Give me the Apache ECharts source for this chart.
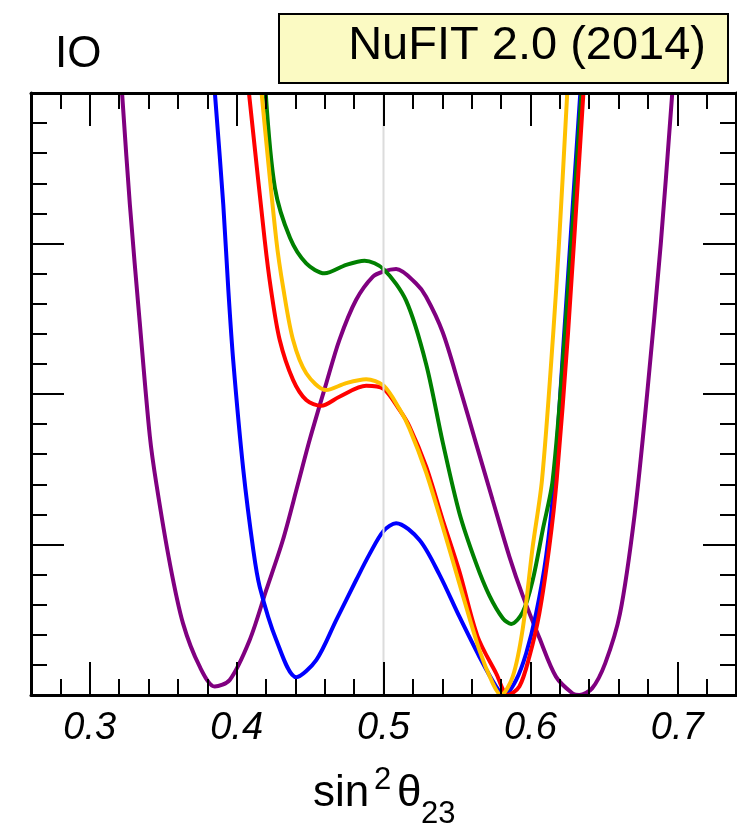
<!DOCTYPE html>
<html>
<head>
<meta charset="utf-8">
<script src="https://cdn.jsdelivr.net/npm/echarts@6/dist/echarts.min.js"></script>
<style>
  html, body { margin: 0; padding: 0; background: #fff; }
  #chart { width: 737px; height: 827px; }
</style>
</head>
<body>
<div id="chart"></div>
<script>
// Delta chi^2 profiles versus sin^2(theta23), inverted ordering
const purpleCurve = [
  [0.322, 20], [0.3273, 16.3], [0.334, 12.4], [0.3409, 8.6], [0.3454, 7.0], [0.3545, 4.38],
  [0.3635, 2.38], [0.3749, 0.94], [0.3851, 0.28], [0.3953, 0.5], [0.4089, 1.83], [0.4202, 3.49],
  [0.4315, 5.15], [0.4417, 7.0], [0.4497, 8.47], [0.461, 10.35], [0.47, 11.8], [0.4814, 13.13],
  [0.4928, 13.9], [0.5, 14.07], [0.5086, 14.15], [0.5222, 13.67], [0.529, 13.23], [0.5403, 12.05],
  [0.5517, 10.25], [0.563, 8.36], [0.5743, 6.48], [0.5857, 4.6], [0.5948, 3.3], [0.6061, 1.9],
  [0.6174, 0.61], [0.6288, 0.05], [0.6333, 0], [0.642, 0.22], [0.651, 1.06], [0.661, 2.7],
  [0.671, 6.0], [0.6795, 10], [0.6888, 15], [0.6966, 20]
];
const blueCurve = [
  [0.3852, 20], [0.3909, 16.3], [0.3943, 13.5], [0.3977, 11.1], [0.4045, 7.5], [0.4114, 4.8],
  [0.4157, 3.6], [0.427, 1.83], [0.4406, 0.59], [0.4542, 1.16], [0.4678, 2.49], [0.4814, 3.82],
  [0.4905, 4.68], [0.5, 5.45], [0.5086, 5.71], [0.5245, 5.15], [0.5381, 4.0], [0.5517, 2.6],
  [0.5653, 1.27], [0.5767, 0.28], [0.5823, 0], [0.5903, 0.5], [0.5971, 1.38], [0.6039, 2.71],
  [0.6107, 4.6], [0.6163, 7.14], [0.623, 12], [0.634, 20]
];
const greenCurve = [
  [0.4198, 20], [0.4261, 16.84], [0.4364, 15.18], [0.4474, 14.34], [0.4599, 14.01], [0.4746, 14.29],
  [0.4871, 14.43], [0.5, 14.15], [0.5154, 13.1], [0.529, 11.0], [0.5403, 8.4], [0.5517, 6.04],
  [0.563, 4.38], [0.5721, 3.3], [0.5812, 2.55], [0.5869, 2.36], [0.5948, 2.75], [0.6016, 3.82],
  [0.6084, 5.48], [0.6152, 7.14], [0.6235, 12], [0.6348, 20]
];
const redCurve = [
  [0.4084, 20], [0.4191, 15.12], [0.4233, 13.5], [0.4293, 11.8], [0.4384, 10.47], [0.4474, 9.8],
  [0.4576, 9.61], [0.47, 9.91], [0.4882, 10.27], [0.5, 10.17], [0.5109, 9.47], [0.5177, 8.92],
  [0.529, 7.59], [0.5403, 5.82], [0.5517, 4.1], [0.564, 1.95], [0.5767, 0.72], [0.5846, 0],
  [0.5925, 0.28], [0.5993, 1.27], [0.6061, 2.71], [0.6129, 4.93], [0.6179, 7.14], [0.6256, 12],
  [0.6361, 20]
];
const orangeCurve = [
  [0.417, 20], [0.427, 15.12], [0.4318, 13.5], [0.4384, 11.8], [0.4474, 10.69], [0.461, 10.13],
  [0.4746, 10.36], [0.4882, 10.49], [0.5, 10.28], [0.5109, 9.5], [0.5177, 8.85], [0.529, 7.4],
  [0.5403, 5.6], [0.5517, 3.7], [0.5653, 1.49], [0.5744, 0.39], [0.58, 0], [0.588, 0.61],
  [0.5948, 2.2], [0.6016, 4.93], [0.6079, 7.14], [0.6155, 11.97], [0.6196, 15.1], [0.6251, 20]
];
const maximalMixing = [[0.5, 0], [0.5, 20]];

// axis ranges and ticks
const xRange = [0.26, 0.74];
const yRange = [0, 20];
const xMajorTicks = [0.3, 0.4, 0.5, 0.6, 0.7];
const xMinorTicks = [0.28, 0.32, 0.34, 0.36, 0.38, 0.42, 0.44, 0.46, 0.48, 0.52, 0.54,
                     0.56, 0.58, 0.62, 0.64, 0.66, 0.68, 0.72];
const yMajorTicks = [5, 10, 15];
const yMinorTicks = [1, 2, 3, 4, 6, 7, 8, 9, 11, 12, 13, 14, 16, 17, 18, 19];

const FONT = '"Liberation Sans", Arial, Helvetica, sans-serif';

function xAx(position, ticks, len, withLine, withLabels) {
  return {
    type: 'value', position: position, min: xRange[0], max: xRange[1], z: 10,
    axisLine: { show: withLine, onZero: false, lineStyle: { color: '#000', width: 3 } },
    axisTick: { show: true, inside: true, length: len, customValues: ticks,
                lineStyle: { color: '#000', width: 2 } },
    axisLabel: withLabels ? {
      show: true, customValues: ticks, margin: 14,
      formatter: v => v.toFixed(1),
      color: '#000', fontFamily: FONT, fontStyle: 'italic', fontSize: 38
    } : { show: false },
    splitLine: { show: false }
  };
}
function yAx(position, ticks, len, withLine) {
  return {
    type: 'value', position: position, min: yRange[0], max: yRange[1], z: 10,
    axisLine: { show: withLine, onZero: false, lineStyle: { color: '#000', width: 3 } },
    axisTick: { show: true, inside: true, length: len, customValues: ticks,
                lineStyle: { color: '#000', width: 2 } },
    axisLabel: { show: false },
    splitLine: { show: false }
  };
}

function curve(data, color, z) {
  return {
    type: 'line', data: data, xAxisIndex: 0, yAxisIndex: 0,
    showSymbol: false, smooth: 0.3, z: z, clip: true,
    lineStyle: { color: color, width: 4 }
  };
}

const chart = echarts.init(document.getElementById('chart'), null, { renderer: 'canvas' });
chart.setOption({
  animation: false,
  backgroundColor: '#fff',
  grid: { left: 31, top: 93, width: 705, height: 602, containLabel: false },
  xAxis: [
    xAx('bottom', xMajorTicks, 33, true, true),
    xAx('bottom', xMinorTicks, 16, false, false),
    xAx('top', xMajorTicks, 33, true, false),
    xAx('top', xMinorTicks, 16, false, false)
  ],
  yAxis: [
    yAx('left', yMajorTicks, 33, true),
    yAx('left', yMinorTicks, 16, false),
    yAx('right', yMajorTicks, 33, true),
    yAx('right', yMinorTicks, 16, false)
  ],
  series: [
    curve(purpleCurve, '#800080', 2),
    curve(blueCurve, '#0000ff', 3),
    curve(greenCurve, '#008000', 4),
    curve(redCurve, '#ff0000', 5),
    curve(orangeCurve, '#ffc000', 6),
    {
      type: 'line', data: maximalMixing, xAxisIndex: 0, yAxisIndex: 0,
      showSymbol: false, z: 8, lineStyle: { color: '#dcdcdc', width: 2 }
    }
  ],
  graphic: [
    {
      type: 'rect', left: 278, top: 13, z: 20,
      shape: { width: 449, height: 69 },
      style: { fill: '#fbfac3', stroke: '#000', lineWidth: 2 }
    },
    {
      type: 'text', z: 21, x: 706, y: 46,
      style: { text: 'NuFIT 2.0 (2014)', fill: '#000', font: '47px ' + FONT,
               align: 'right', verticalAlign: 'middle' }
    },
    {
      type: 'text', z: 21, x: 55, y: 55,
      style: { text: 'IO', fill: '#000', font: '44px ' + FONT,
               align: 'left', verticalAlign: 'middle' }
    },
    {
      type: 'text', z: 21, x: 313, y: 794,
      style: { text: 'sin', fill: '#000', font: '44px ' + FONT,
               align: 'left', verticalAlign: 'middle' }
    },
    {
      type: 'text', z: 21, x: 374, y: 780,
      style: { text: '2', fill: '#000', font: '31px ' + FONT,
               align: 'left', verticalAlign: 'middle' }
    },
    {
      type: 'text', z: 21, x: 397, y: 794,
      style: { text: 'θ', fill: '#000', font: '44px ' + FONT,
               align: 'left', verticalAlign: 'middle' }
    },
    {
      type: 'text', z: 21, x: 421, y: 814,
      style: { text: '23', fill: '#000', font: '31px ' + FONT,
               align: 'left', verticalAlign: 'middle' }
    }
  ]
});
</script>
</body>
</html>
